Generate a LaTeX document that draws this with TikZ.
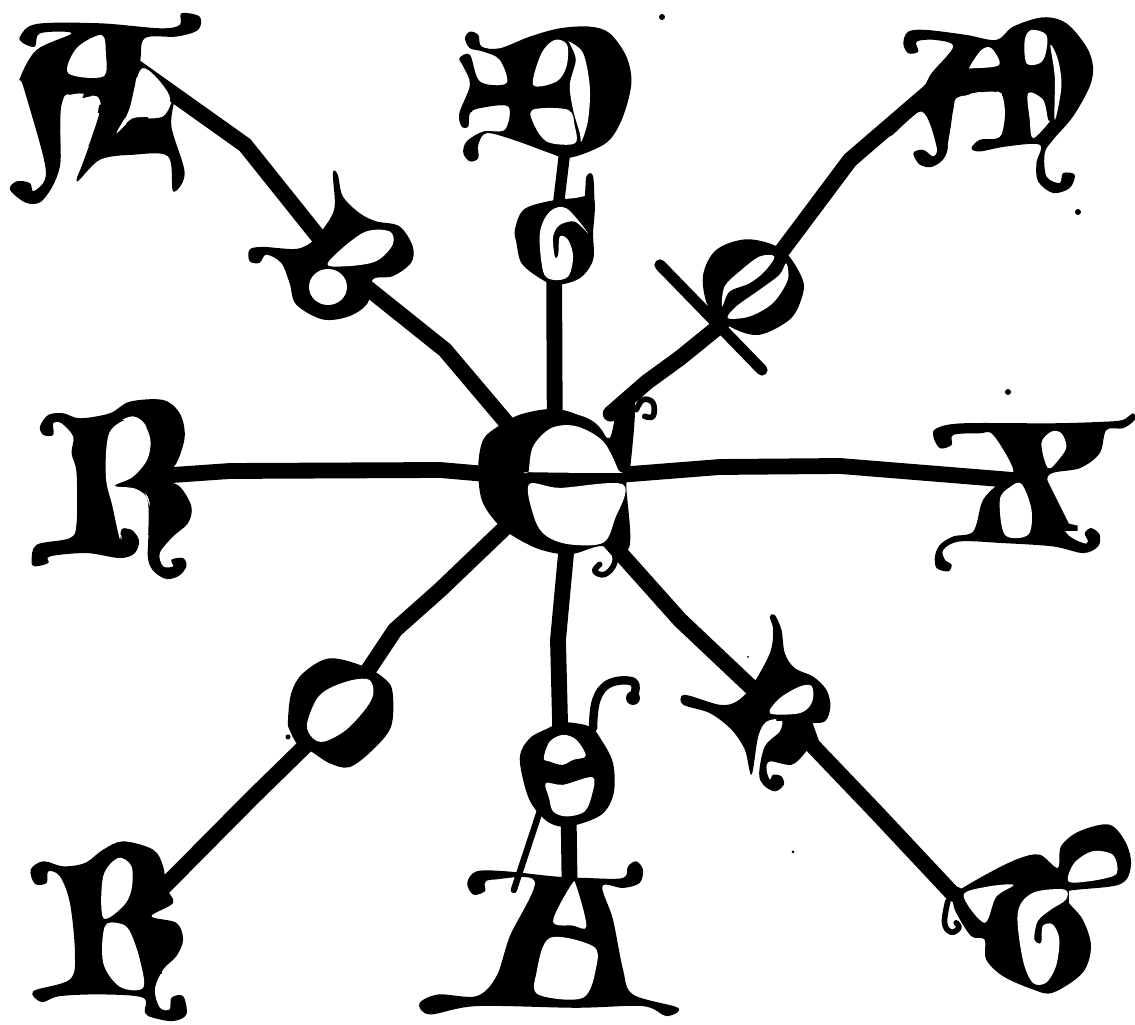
\documentclass[tikz,border=0pt]{standalone}
\usepackage{fontspec}
\usepackage{graphicx}
\setmainfont{Liberation Serif}
\pgfdeclarelayer{under}
\pgfdeclarelayer{over}
\pgfsetlayers{under,main,over}
\newlength\pxu \setlength\pxu{0.01cm}
\newcommand\gl[3]{\resizebox{#1\pxu}{#2\pxu}{\bfseries #3}}
\newcommand\gli[3]{\resizebox{#1\pxu}{#2\pxu}{\bfseries\itshape #3}}
\newcommand\silh[3]{\begin{scope}[shift={(#1,#2)},x=0.0033333cm,y=-0.0033333cm]\fill plot[smooth cycle,tension=0.55] coordinates {#3};\end{scope}}
\newcommand\holl[3]{\begin{scope}[shift={(#1,#2)},x=0.0033333cm,y=-0.0033333cm]\fill[white] plot[smooth cycle,tension=0.55] coordinates {#3};\end{scope}}
\newcommand\curl[4]{\begin{scope}[shift={(#1,#2)},x=0.0033333cm,y=-0.0033333cm]\draw[line width=#3,line cap=round,line join=round] plot[smooth,tension=0.7] coordinates {#4};\end{scope}}
\tikzset{
  x=0.01cm,y=-0.01cm,
  glyph/.style={inner sep=0pt,outer sep=0pt},
  ray/.style={line width=4.5pt,line join=round,line cap=round,black},
  thinray/.style={line width=3.2pt,line join=round,line cap=round,black},
  hairray/.style={line width=1.8pt,line join=round,line cap=round,black},
}
\begin{document}
\begin{tikzpicture}
\useasboundingbox (0,0) rectangle (1135,1025);
% letters
\node[glyph] (A1) at (112,97) {\gl{105}{100}{A}};
\node[glyph] (D1) at (572,92) {\gl{100}{96}{D}};
\node[glyph] (M1) at (1002,88) {\gl{96}{84}{M}};
\node[glyph] (R1) at (130,478) {\gl{70}{115}{R}};
\node[glyph] (X1) at (1037,482) {\gl{85}{100}{X}};
\node[glyph] (R2) at (131,920) {\gl{62}{110}{R}};
\node[glyph] (A2) at (560,945) {\gl{140}{110}{A}};
\node[glyph] (G1) at (1038,932) {\gl{90}{100}{G}};
\node[glyph] (E1) at (345,270) {\gl{76}{62}{e}};
\node[glyph] (G2) at (554,241) {\gl{66}{70}{G}};
\node[glyph] (O1) at (755,287) {\gli{80}{80}{o}};
\node[glyph] (O2) at (341,711) {\gli{84}{90}{o}};
\node[glyph] (E2) at (568,775) {\gl{82}{86}{e}};
\node[glyph] (R3) at (795,697) {\gl{40}{50}{R}};
\node[glyph] (C0) at (555,480) {\gl{130}{130}{e}};
% waypoints
\coordinate (a1) at (245,145);
\coordinate (a2) at (445,350);
\coordinate (b1) at (850,160);
\coordinate (b2) at (717,328);
\coordinate (b3) at (680,358);
\coordinate (b4) at (647,382);
\coordinate (c1) at (230,471);
\coordinate (c2) at (440,470);
\coordinate (d1) at (720,467);
\coordinate (d2) at (840,466);
\coordinate (e1) at (440,590);
\coordinate (e2) at (395,630);
\coordinate (e3) at (253,797);
\coordinate (f1) at (558,640);
\coordinate (g1) at (680,620);
\coordinate (g4) at (752,688);
\coordinate (g5) at (812,745);
\coordinate (g2) at (877,813);
\coordinate (g3) at (952,893);
\coordinate (slashA) at (660,265);
\coordinate (slashB) at (762,370);
\begin{pgfonlayer}{under}
% rays
\draw[ray,shorten <=-13pt] (A1.10) -- (a1) -- (E1.center);
\draw[ray] (E1.center) -- (a2) -- (C0.center);
\draw[thinray] (D1.center) -- (G2.center);
\draw[ray] (G2.center) -- (C0.center);
\draw[ray] (M1.160) -- (b1) -- (O1.center);
\draw[ray] (O1.center) -- (b2) -- (b3) -- (b4) -- (C0.50);
\draw[ray] (R1.center) -- (c1) -- (c2) -- (C0.center);
\draw[ray] (C0.center) -- (d1) -- (d2) -- (X1.center);
\draw[ray] (C0.center) -- (e1) -- (e2) -- (O2.center);
\draw[ray] (O2.center) -- (e3) -- (R2.center);
\draw[ray] (C0.-80) -- (f1) -- (E2.100);
\draw[ray] (C0.center) -- (g1) -- (g4) -- (R3.center);
\draw[ray] (R3.center) -- (g5) -- (g2) -- (g3) -- (G1.center);
\draw[thinray] (slashA) -- (slashB);
\draw[hairray,shorten <=-5pt] (E2.-125) -- (A2.130);
\draw[ray] (E2.center) -- (A2.80);
% silhouettes
\silh{0}{0}{(60,110)(110,72)(300,70)(480,85)(540,75)(545,40)(600,50)(595,90)(530,110)(435,115)(420,190)(385,330)(350,400)(400,360)(490,350)(525,290)(515,380)(555,520)(520,575)(505,470)(400,465)(300,480)(230,545)(270,430)(300,300)(190,300)(180,500)(130,600)(80,610)(30,570)(50,545)(90,550)(100,575)(135,540)(130,470)(70,260)(60,235)(110,150)(215,100)(120,100)(105,140)(70,130)}
\silh{450}{10}{(45,85)(60,65)(85,75)(95,110)(150,115)(240,80)(330,55)(420,50)(480,70)(530,140)(545,220)(520,320)(480,390)(420,425)(350,445)(300,430)(190,390)(110,370)(85,405)(85,445)(60,455)(40,430)(50,395)(100,365)(165,360)(175,290)(90,295)(60,310)(55,350)(35,350)(28,310)(60,225)(40,170)(28,145)(60,135)(90,215)(170,220)(150,150)(100,125)(60,115)}
\silh{450}{10}{(410,500)(430,500)(432,600)(410,600)(350,590)(350,575)(400,575)}
\silh{440}{200}{(225,90)(250,30)(320,5)(400,-5)(462,-5)(460,100)(460,180)(420,235)(350,255)(300,235)(245,190)(230,130)}
\silh{890}{10}{(40,100)(55,65)(110,60)(230,75)(320,90)(370,50)(460,22)(530,40)(590,110)(610,170)(600,230)(550,320)(490,390)(465,430)(470,500)(510,520)(520,490)(555,495)(540,535)(490,550)(445,515)(440,460)(450,405)(350,410)(270,425)(245,415)(270,390)(335,375)(335,250)(210,260)(190,300)(170,430)(130,470)(90,465)(70,430)(100,420)(130,440)(140,410)(95,305)(0,380)(0,330)(60,280)(100,235)(125,190)(190,110)(135,90)(80,95)(85,125)(55,130)}
\silh{20}{390}{(60,110)(85,75)(130,70)(180,85)(270,70)(330,35)(430,30)(480,70)(495,140)(470,220)(430,265)(480,290)(515,350)(505,400)(460,440)(420,490)(430,530)(460,530)(455,510)(490,505)(500,530)(475,560)(430,565)(385,510)(390,340)(350,295)(285,290)(340,265)(385,210)(395,150)(370,95)(330,80)(280,120)(260,260)(275,350)(305,450)(305,420)(335,420)(358,450)(345,490)(300,505)(200,490)(90,500)(85,520)(45,530)(35,515)(50,465)(150,445)(170,400)(170,250)(155,190)(160,140)(125,100)(100,100)(100,135)(70,135)}
\silh{920}{400}{(40,110)(50,85)(130,70)(400,70)(560,65)(610,60)(640,40)(645,60)(610,85)(560,90)(540,160)(480,205)(385,228)(410,320)(440,400)(490,430)(505,425)(495,400)(515,385)(540,405)(535,440)(490,460)(400,440)(250,430)(120,425)(70,450)(75,480)(95,495)(85,515)(50,505)(45,470)(60,435)(100,410)(160,395)(185,310)(210,275)(250,240)(280,208)(220,105)(180,100)(100,105)(95,135)(60,145)}
\silh{20}{650}{(32,660)(70,635)(130,650)(195,640)(250,600)(310,575)(400,600)(430,650)(440,715)(460,760)(395,800)(470,820)(490,870)(470,920)(430,960)(405,1020)(420,1075)(450,1080)(455,1045)(490,1040)(500,1095)(460,1115)(400,1105)(375,1090)(370,1045)(250,1035)(120,1040)(65,1058)(40,1025)(150,990)(165,910)(150,760)(120,680)(85,665)(80,700)(45,703)}
\silh{20}{650}{(805,215)(815,130)(850,70)(930,25)(1035,50)(1100,90)(1120,130)(1115,230)(1060,300)(990,352)(930,340)(875,305)(835,285)(810,240)}
\silh{410}{670}{(330,260)(360,205)(415,175)(460,157)(540,170)(575,210)(610,280)(612,370)(575,435)(480,470)(420,460)(370,410)(345,350)}
\silh{410}{670}{(172,640)(200,605)(290,605)(430,620)(530,625)(640,625)(655,590)(680,575)(700,600)(690,640)(640,655)(578,650)(610,750)(640,900)(670,975)(805,1015)(770,1040)(700,1010)(500,1015)(200,1010)(60,1035)(28,1002)(85,975)(200,980)(260,920)(300,800)(375,635)(250,630)(225,640)(225,665)(190,675)}
\silh{670}{610}{(300,20)(315,15)(335,60)(345,130)(375,175)(430,200)(470,240)(482,290)(465,335)(410,345)(425,395)(405,430)(365,465)(300,455)(290,480)(300,510)(310,495)(335,500)(342,525)(315,545)(280,525)(268,490)(285,410)(330,365)(335,330)(290,335)(265,380)(245,495)(225,420)(185,360)(120,310)(40,285)(35,258)(60,258)(150,285)(200,275)(245,230)(300,130)(310,60)}
\silh{670}{610}{(850,855)(940,800)(1040,750)(1110,735)(1165,775)(1175,710)(1230,665)(1320,645)(1370,700)(1385,770)(1350,825)(1195,845)(1195,875)(1240,930)(1265,1010)(1240,1090)(1150,1150)(1090,1140)(1000,1100)(950,1050)(945,990)(905,980)(860,910)(850,875)}
\silh{0}{0}{(1000,520)(1015,525)(1030,590)(1080,640)(1130,665)(1200,680)(1240,740)(1235,790)(1180,830)(1120,840)(1105,910)(1050,950)(970,960)(890,915)(870,850)(845,790)(800,765)(780,790)(750,785)(750,750)(790,742)(890,748)(940,725)(970,690)(1005,625)}
\silh{440}{200}{(790,230)(830,150)(925,118)(1030,150)(1090,240)(1085,300)(1050,360)(960,405)(880,385)(810,330)}
\silh{440}{200}{(115,800)(130,720)(175,680)(240,645)(330,628)(400,640)(470,680)(510,715)(535,625)(585,610)(570,820)(560,860)(568,1045)(480,1040)(390,1065)(300,1050)(220,1010)(170,970)(125,900)}
% curls
\curl{440}{200}{1.6pt}{(590,630)(610,600)(640,610)(640,650)(615,650)}
\curl{440}{200}{1.6pt}{(520,1040)(525,1090)(495,1125)(465,1115)(480,1095)}
\curl{410}{670}{2.4pt}{(550,175)(560,90)(600,40)(670,35)(675,70)}
\fill (633,698) circle (7);
\curl{670}{610}{1.6pt}{(835,875)(825,940)(845,968)(868,955)(860,940)}
\end{pgfonlayer}
\begin{pgfonlayer}{over}
% white counters
\holl{0}{0}{(205,220)(230,145)(305,105)(318,160)(310,230)}
\holl{0}{0}{(190,298)(240,296)(298,298)(268,430)(225,538)(185,500)}
\holl{0}{0}{(428,205)(508,285)(488,345)(400,355)(358,392)(388,330)}
\holl{450}{10}{(250,225)(275,130)(315,90)(352,105)(350,170)(320,215)}
\holl{450}{10}{(248,300)(355,300)(375,350)(380,395)(350,405)(290,395)(255,350)}
\holl{450}{10}{(358,95)(400,130)(420,230)(415,330)(395,395)(390,370)(370,300)(360,225)(378,150)(362,105)}
\holl{440}{200}{(300,100)(330,35)(380,25)(445,100)(405,65)(360,75)(340,110)(345,170)(355,165)(360,110)(385,120)(400,170)(385,230)(340,240)(310,215)}
\holl{890}{10}{(240,170)(275,120)(305,115)(328,165)(250,175)}
\holl{890}{10}{(405,90)(425,60)(470,75)(468,130)(450,160)(410,160)}
\holl{890}{10}{(482,105)(505,150)(515,230)(495,330)(495,200)}
\holl{890}{10}{(415,250)(460,270)(475,330)(480,335)(430,385)(420,330)}
\holl{890}{10}{(195,300)(210,262)(333,252)(333,372)(268,388)(240,412)(175,425)}
\holl{20}{390}{(268,130)(330,85)(370,100)(392,150)(382,210)(338,262)(285,288)(350,298)(385,342)(380,505)(362,495)(358,450)(335,418)(305,418)(300,448)(278,350)(258,260)}
\holl{920}{400}{(365,130)(395,95)(425,100)(440,140)(420,175)(385,205)}
\holl{920}{400}{(240,300)(270,262)(305,252)(335,330)(325,405)(255,405)}
\holl{20}{650}{(250,680)(295,625)(335,650)(335,720)(310,770)(250,805)}
\holl{20}{650}{(255,830)(300,822)(330,845)(360,930)(370,1015)(300,1012)(250,940)}
\holl{20}{650}{(862,225)(890,150)(930,115)(1000,90)(1050,90)(1062,130)(1040,175)(980,240)(915,275)(880,265)}
\holl{410}{670}{(402,265)(420,215)(460,195)(500,210)(528,258)(490,270)(458,285)(420,275)}
\holl{410}{670}{(408,340)(460,345)(548,322)(548,370)(525,425)(470,440)(430,425)(418,385)}
\holl{410}{670}{(430,755)(485,645)(500,650)(530,770)(490,768)}
\holl{410}{670}{(420,805)(550,830)(560,890)(520,985)(385,975)(380,910)}
\holl{670}{610}{(300,310)(330,265)(390,230)(425,228)(430,265)(415,295)(380,312)}
\holl{670}{610}{(882,858)(950,832)(1032,826)(980,862)(945,940)}
\holl{670}{610}{(1197,815)(1215,760)(1270,725)(1330,735)(1345,780)(1330,800)(1260,815)}
\holl{670}{610}{(1045,910)(1090,850)(1185,840)(1190,870)(1145,900)(1105,935)(1095,990)(1115,1000)(1120,950)(1150,945)(1170,990)(1160,1070)(1130,1120)(1090,1120)(1060,1050)}
\holl{0}{0}{(985,790)(1090,700)(1170,695)(1180,735)(1130,785)(1040,800)}
\fill[white] (328,287) ellipse (19 and 18);
\holl{440}{200}{(848,320)(855,260)(900,215)(960,170)(1005,170)(975,215)(930,250)(870,275)}
\holl{440}{200}{(865,355)(890,320)(960,270)(1020,225)(1040,190)(1045,240)(1000,310)(930,350)}
\holl{440}{200}{(267,815)(280,740)(335,685)(410,680)(490,725)(535,810)(530,820)(270,818)}
\holl{440}{200}{(267,855)(360,865)(550,855)(525,960)(490,1030)(390,1035)(320,1010)(285,960)}
% specks
\fill (662,17) circle (3);
\fill (1078,212) circle (3);
\fill (1008,392) circle (3);
\fill (793,852) circle (1.5);
\fill (288,737) circle (2.5);
\fill (748,657) circle (1);
\end{pgfonlayer}
\end{tikzpicture}
\end{document}
